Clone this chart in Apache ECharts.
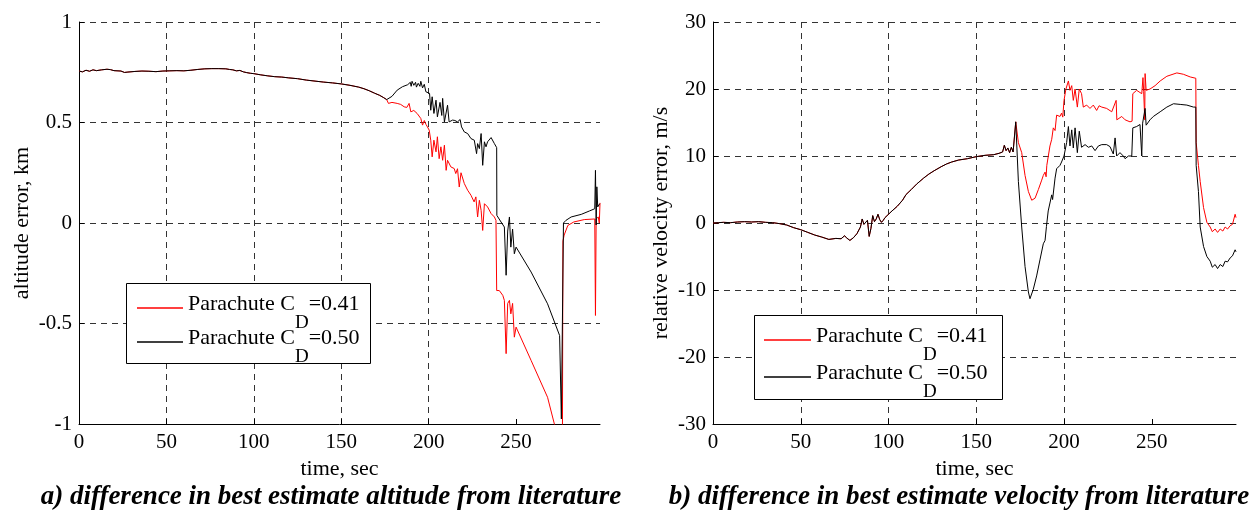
<!DOCTYPE html>
<html><head><meta charset="utf-8">
<script src="https://cdn.jsdelivr.net/npm/echarts@6/dist/echarts.min.js"></script>
<style>html,body{margin:0;padding:0;background:#fff}#c{width:1253px;height:512px}</style>
</head><body><div id="c"></div>
<script>
// ---- tick values ----
const xTicks = [0, 50, 100, 150, 200, 250];
const altTicks = [-1, -0.5, 0, 0.5, 1];
const velTicks = [-30, -20, -10, 0, 10, 20, 30];
const seriesNames = ['Parachute CD=0.41', 'Parachute CD=0.50'];
const captions = ['a) difference in best estimate altitude from literature', 'b) difference in best estimate velocity from literature'];

// ---- altitude error (km) ----
const altCommonT = [0,2,4,6,8,10,13,16,18,20,24,26,28,32,36,40,44,48,52,56,60,64,68,72,76,80,84,86,88,90,92,94,96,98,100,104,108,112,116,120,125,130,135,140,145,150,155,160,163,166,169,172,174,176];
const altCommonV = [0.756,0.752,0.76,0.755,0.762,0.758,0.762,0.765,0.763,0.758,0.756,0.749,0.751,0.754,0.756,0.755,0.753,0.756,0.757,0.758,0.757,0.76,0.764,0.767,0.768,0.768,0.767,0.764,0.762,0.757,0.759,0.752,0.748,0.745,0.743,0.737,0.732,0.728,0.726,0.722,0.718,0.711,0.706,0.701,0.697,0.692,0.685,0.676,0.668,0.658,0.646,0.635,0.625,0.614];
const altRedT = [177,179,182,184,186,187.5,188.8,189.8,191.5,193.4,195.5,196.5,197.5,198.5,199.3,200.3,201.2,202,203,204.2,205,206,207,208,209,210,210.8,212.7,214.6,215.5,216.5,217.5,218.5,220.4,222.3,224.2,226,227,228,229,230,230.9,231.9,233.7,235.7,237.6,238.5,238.9,240.4,242.4,243.3,244.3,245.2,246.2,247,248,249,250,258.6,268,271.9,276.5,276.8,277.5,279.6,283,289,295,295.4,295.8,297,297.6,298];
const altRedV = [0.595,0.60,0.595,0.59,0.578,0.575,0.595,0.553,0.56,0.545,0.52,0.487,0.51,0.49,0.478,0.462,0.412,0.329,0.412,0.354,0.429,0.32,0.379,0.312,0.387,0.262,0.312,0.279,0.271,0.246,0.27,0.179,0.25,0.196,0.163,0.138,0.105,0.13,0.03,0.113,0.063,-0.037,0.096,0.08,0.047,0.03,0.013,-0.336,-0.336,-0.36,-0.385,-0.65,-0.40,-0.385,-0.452,-0.40,-0.568,-0.518,-0.684,-0.867,-1.0,-1.11,-0.09,-0.06,-0.012,0.005,0.017,0.02,-0.46,0.02,0.03,0.0,0.1];
const altBlackT = [177,179,182,185,188,189.5,190,190.5,191.5,192.5,193,194,195,195.5,196.5,197.5,198.4,199.5,200.5,201.2,202,203,204.2,205,206.5,207.5,208,209,210.8,211.7,213.7,215,216.5,218,218.8,220.4,222.3,224.2,226.1,227.4,228,229,230,230.9,231.9,232.8,233.7,235.7,237.6,238.9,239.0,241.4,243.3,244.3,245.2,246.2,247,248,249,250,258.6,268,274.9,275.8,275.9,277.0,277.1,278.5,281.5,287.3,292,295,295.4,295.8,296.2,296.7,297.8];
const altBlackV = [0.610,0.63,0.661,0.678,0.688,0.70,0.68,0.705,0.685,0.70,0.676,0.695,0.68,0.705,0.672,0.69,0.653,0.66,0.645,0.561,0.628,0.545,0.611,0.528,0.60,0.535,0.62,0.503,0.586,0.503,0.512,0.51,0.503,0.515,0.478,0.453,0.445,0.42,0.412,0.345,0.395,0.37,0.445,0.287,0.404,0.379,0.404,0.425,0.395,0.375,0.038,0.005,-0.02,-0.26,-0.04,0.03,-0.12,-0.03,-0.153,-0.12,-0.244,-0.402,-0.56,-0.568,-0.975,-0.975,0.0,0.013,0.03,0.043,0.06,0.071,0.262,-0.01,0.18,0.08,0.096];

// ---- relative velocity error (m/s) ----
const velCommonT = [0,3,6,10,14,18,22,26,30,34,38,42,46,50,54,58,62,66,70,73,75,76,78,80,82,84,85,86,87,88,89,90,91,92,93,94,95,96,97,98,100,102,105,108,110,113,116,120,123,126,130,133,136,140,145,150,155,160,163,165,166,167,168,169,170,171,172.5];
const velCommonV = [0,0.05,0.1,0.05,0.15,0.2,0.15,0.2,0.1,0.05,-0.1,-0.3,-0.7,-1.0,-1.4,-1.8,-2.1,-2.45,-2.3,-2.35,-1.9,-2.2,-2.6,-2.2,-1.6,-0.6,0.6,-0.2,-0.3,0.4,-2.0,-0.8,1.1,0.2,0.6,1.3,0.5,0.1,0.4,0.8,1.3,1.8,2.5,3.4,4.25,5.0,5.8,6.7,7.3,7.8,8.4,8.8,9.1,9.4,9.6,9.9,10.1,10.2,10.4,10.6,11.6,10.8,11.2,10.5,11.3,10.6,15.1];
const velRedT = [174,175.9,176.8,177.8,179.7,181.6,183.5,185.4,187.3,188.2,189.2,189.8,190.2,192,193,193.9,194.9,195.8,197.7,198.6,199.3,200,201.1,202.5,203.4,204.4,205.3,206.3,207.6,208.7,210,211,212.9,214.8,216.7,218.6,220,221.5,224.3,227.2,229.7,230.1,232.9,234.8,237.6,238.8,239.2,241.4,244.3,245,245.4,246,246.2,246.8,249,251.9,254.8,258.6,264.3,268,271.9,275.1,275.3,276.6,277.6,279.5,281.4,283.3,284.5,286.1,287.5,289,290.5,291.8,293.2,294.7,296,297.5,298];
const velRedV = [12.0,10.5,10.3,7.1,4.7,3.4,3.7,5.0,6.4,7.1,7.6,6.9,8.6,11.5,12.5,14.2,13.8,16.1,15.9,16.4,15.8,18.3,20.0,21.2,19.8,20.5,18.3,20.0,17.3,20.0,19.3,17.3,17.6,17.1,17.6,16.8,17.5,17.3,17.1,16.6,18.3,15.4,15.9,15.4,15.1,15.2,19.3,19.8,19.3,21.7,19.6,15.4,22.3,19.8,20.0,20.5,21.2,21.9,22.4,22.2,21.8,21.6,12.0,8.6,6.2,2.3,0.1,-0.6,-1.3,-0.9,-1.4,-0.9,-1.2,-0.6,-0.9,-0.4,-0.2,1.3,0.8];
const velBlackT = [174,175.9,177.8,179.7,180.6,182.5,184.4,186.3,188.2,189.2,190,191,193,193.5,194.9,195.8,197.7,198.6,200,201.5,202.5,203.4,204.4,205.3,206.3,207.6,208.7,210,212,213.9,215.8,217.7,219.6,221.5,224.3,226.2,228.1,229.1,230,231.9,233.8,234.8,236.7,238.6,239.2,241.4,243.3,244.3,244.8,246.2,246.8,249,250.9,254.8,258.6,262.4,266.2,270,273.8,275.1,275.3,276.6,277.6,279.5,281.4,283.3,284.5,286.1,287.5,289,290.5,291.8,293.2,294.7,296,297.5,298];
const velBlackV = [6.2,-0.6,-6.5,-10.3,-11.3,-9.9,-7.9,-5.5,-3.1,-2.6,-0.5,1.8,4.2,3.5,6.7,8.1,8.6,9.1,10.0,12.0,14.4,11.5,13.9,11.2,14.2,10.5,13.7,11.3,11.7,11.3,11.5,10.8,11.5,11.7,11.7,11.4,10.3,12.7,10.0,10.5,10.0,9.6,10.0,10.0,14.2,14.4,14.7,10.0,14.9,17.1,14.6,15.4,15.9,16.6,17.3,17.8,17.7,17.6,17.3,17.3,8.6,4.7,-0.6,-3.5,-5.0,-5.7,-6.6,-6.2,-6.8,-6.2,-6.5,-5.7,-5.8,-5.2,-4.9,-4.0,-4.3];

function zip(t, v) { return t.map((x, i) => [x, v[i]]); }
const FONT = 'Liberation Serif';
const RED = '#ff0000', BLACK = '#000000';

function xAxis(gi) {
  return {
    type: 'value', gridIndex: gi, min: 0, max: 298,
    axisLine: { show: true, onZero: false, lineStyle: { color: '#000', width: 1 } },
    axisTick: { show: true, inside: true, length: 5, customValues: xTicks, lineStyle: { color: '#000' } },
    axisLabel: { customValues: xTicks, margin: 8, color: '#000', fontFamily: FONT, fontSize: 21 },
    splitLine: { show: true, showMaxLine: false, lineStyle: { color: '#333', type: [6, 5], width: 1 } },
    name: 'time, sec', nameLocation: 'middle', nameGap: 33,
    nameTextStyle: { color: '#000', fontFamily: FONT, fontSize: 22 }
  };
}
function yAxis(gi, ticks, name, gap) {
  return {
    type: 'value', gridIndex: gi, min: ticks[0], max: ticks[ticks.length - 1], interval: ticks[1] - ticks[0],
    axisLine: { show: true, onZero: false, lineStyle: { color: '#000', width: 1 } },
    axisTick: { show: true, inside: true, length: 5, lineStyle: { color: '#000' } },
    axisLabel: { margin: 7, color: '#000', fontFamily: FONT, fontSize: 21 },
    splitLine: { show: true, showMinLine: false, lineStyle: { color: '#333', type: [6, 5], width: 1 } },
    name: name, nameLocation: 'middle', nameGap: gap,
    nameTextStyle: { color: '#000', fontFamily: FONT, fontSize: 22 }
  };
}
function line(name, color, gi, data) {
  return {
    type: 'line', name: name, xAxisIndex: gi, yAxisIndex: gi, data: data,
    symbol: 'none', showSymbol: false, clip: true,
    lineStyle: { color: color, width: 1 }, itemStyle: { color: color }
  };
}
function legendFormatter(name) {
  const m = name.match(/^(Parachute C)D(=.*)$/);
  return '{a|' + m[1] + '}{s|D}{a|' + m[2] + '}';
}
const legendRich = {
  a: { fontFamily: FONT, fontSize: 22, lineHeight: 22, padding: [0, 0, 0, 0], verticalAlign: 'top', color: '#000' },
  s: { fontFamily: FONT, fontSize: 19, lineHeight: 30, padding: [21, 0, 0, 0], verticalAlign: 'top', color: '#000' }
};
function legend(left, top, gap, w) {
  return {
    orient: 'vertical', left: left, top: top, padding: 0, itemGap: gap, z: 6,
    itemWidth: w, itemHeight: 1.6, icon: 'rect',
    data: seriesNames, formatter: legendFormatter,
    textStyle: { rich: legendRich, fontFamily: FONT, fontSize: 22, color: '#000' }
  };
}
function legendBox(x, y, w, h) {
  return { type: 'rect', z: 5, shape: { x: x + 0.5, y: y + 0.5, width: w, height: h },
    style: { fill: '#fff', stroke: '#000', lineWidth: 1 } };
}
function caption(text, cx) {
  return { type: 'text', x: cx, y: 497, z: 5, style: { text: text, fontFamily: FONT, fontSize: 27,
    fontStyle: 'italic', fontWeight: 'bold', fill: '#000', align: 'center', verticalAlign: 'middle' } };
}

const chart = echarts.init(document.getElementById('c'), null, { renderer: 'canvas' });
chart.setOption({
  animation: false,
  backgroundColor: '#fff',
  grid: [
    { left: 79, top: 22, width: 521, height: 402 },
    { left: 713, top: 22, width: 523, height: 402 }
  ],
  xAxis: [xAxis(0), xAxis(1)],
  yAxis: [yAxis(0, altTicks, 'altitude error, km', 46), yAxis(1, velTicks, 'relative velocity error, m/s', 41)],
  legend: [legend(137, 293, -6, 46), legend(764, 325, -3, 47)],
  series: [
    line(seriesNames[0], RED, 0, zip(altCommonT.concat(altRedT), altCommonV.concat(altRedV))),
    line(seriesNames[1], BLACK, 0, zip(altCommonT.concat(altBlackT), altCommonV.concat(altBlackV))),
    line(seriesNames[0], RED, 1, zip(velCommonT.concat(velRedT), velCommonV.concat(velRedV))),
    line(seriesNames[1], BLACK, 1, zip(velCommonT.concat(velBlackT), velCommonV.concat(velBlackV)))
  ],
  graphic: [
    legendBox(126, 283, 244, 80),
    legendBox(754, 315, 248, 84),
    caption(captions[0], 331),
    caption(captions[1], 959)
  ]
});
</script></body></html>
